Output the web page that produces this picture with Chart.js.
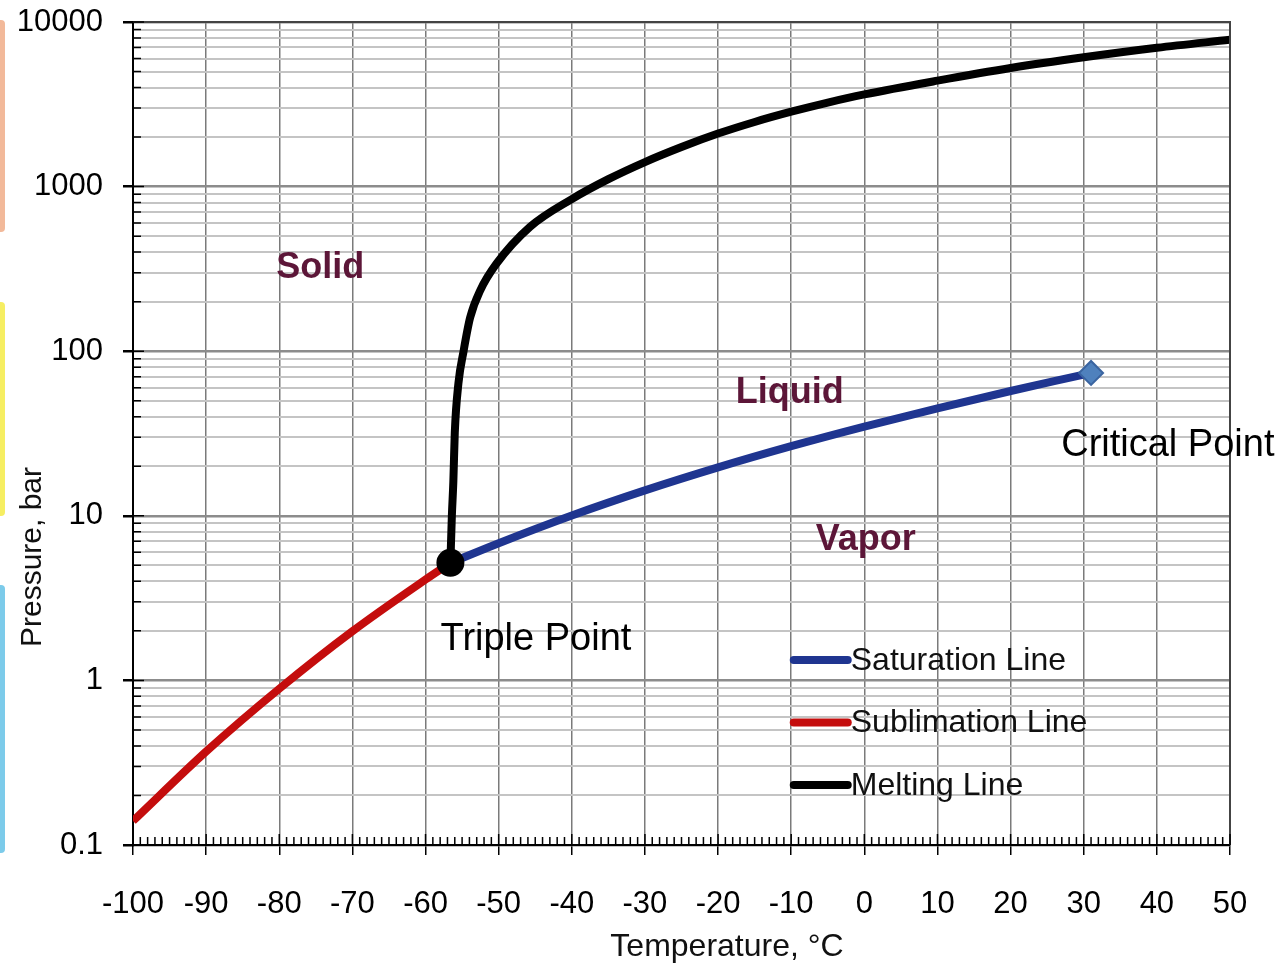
<!DOCTYPE html>
<html>
<head>
<meta charset="utf-8">
<script src="https://cdn.jsdelivr.net/npm/chart.js@4"></script>
<style>
  html, body { margin: 0; padding: 0; background: #fff; }
</style>
</head>
<body>
<canvas id="phase" width="1281" height="971"></canvas>
<script>
// CO2 phase diagram data
var satTemp = [-56.6, -50, -40, -30, -20, -10, 0, 10, 20, 30, 31]
var satPres = [5.18, 6.82, 10.05, 14.28, 19.7, 26.5, 34.85, 45.0, 57.3, 72.1, 73.8]

var subTemp = [-100, -90, -80, -70, -60, -56.6]
var subPres = [0.14, 0.37, 0.89, 1.99, 4.1, 5.18]

var meltTemp = [-56.6, -56.4, -56.2, -56.0, -55.5, -54.8, -53.9, -52.5, -50.3, -45.7, -40, -35, -30, -25, -20, -15, -10, -5, 0, 10, 20, 30, 40, 50]
var meltPres = [5.18, 10, 16, 32, 64, 100, 160, 235, 340, 570, 840, 1110, 1410, 1740, 2100, 2470, 2850, 3240, 3630, 4400, 5250, 6100, 6970, 7800]

var xTicks = [-100, -90, -80, -70, -60, -50, -40, -30, -20, -10, 0, 10, 20, 30, 40, 50]
var yDecades = [0.1, 1, 10, 100, 1000, 10000]
var yTickLabels = ['0.1', '1', '10', '100', '1000', '10000']

var FONT = 'Liberation Sans, Arial, sans-serif'

function pairs(xs, ys) {
  return xs.map(function (x, i) { return { x: x, y: ys[i] } })
}

function isDecade(v) {
  var l = Math.log10(v)
  return Math.abs(l - Math.round(l)) < 1e-9
}

function decadeLabel(v) {
  for (var i = 0; i < yDecades.length; i++) {
    if (Math.abs(v / yDecades[i] - 1) < 1e-9) return yTickLabels[i]
  }
  return ''
}

// text placed in data coordinates
var notes = [
  { text: 'Solid', x: -74.4, y: 320, color: '#5c1638', font: 'bold 36px ' + FONT },
  { text: 'Liquid', x: -10.2, y: 55.7, color: '#5c1638', font: 'bold 36px ' + FONT },
  { text: 'Vapor', x: 0.2, y: 7.13, color: '#5c1638', font: 'bold 36px ' + FONT },
  { text: 'Triple Point', x: -44.9, y: 1.76, color: '#000', font: '38px ' + FONT },
  { text: 'Critical Point', x: 41.5, y: 26.9, color: '#000', font: '38px ' + FONT }
]

var decor = {
  id: 'decor',
  beforeDraw: function (chart) {
    var c = chart.ctx
    c.save()
    c.fillStyle = '#fff'
    c.fillRect(0, 0, chart.width, chart.height)
    // coloured tabs on the left edge
    var tabs = [['#f2b99a', 20, 232], ['#f6ee62', 302, 516], ['#7ccbea', 585, 853]]
    tabs.forEach(function (t) {
      c.fillStyle = t[0]
      c.beginPath()
      c.roundRect(-6, t[1], 11, t[2] - t[1], 4)
      c.fill()
    })
    c.restore()
  },
  afterDatasetsDraw: function (chart) {
    var c = chart.ctx
    var a = chart.chartArea
    var xs = chart.scales.x
    var ys = chart.scales.y
    c.save()
    // frame top/right
    c.strokeStyle = '#444'
    c.lineWidth = 2
    c.beginPath()
    c.moveTo(a.left, a.top)
    c.lineTo(a.right, a.top)
    c.lineTo(a.right, a.bottom)
    c.stroke()
    // inward minor ticks on the x axis
    c.strokeStyle = '#000'
    c.lineWidth = 1.5
    c.beginPath()
    for (var t = xs.min; t <= xs.max; t++) {
      var px = xs.getPixelForValue(t)
      c.moveTo(px, a.bottom)
      c.lineTo(px, a.bottom - (t % 10 === 0 ? 11 : 8))
    }
    // inward ticks on the y axis
    ys.ticks.forEach(function (tk) {
      var py = ys.getPixelForValue(tk.value)
      c.moveTo(a.left, py)
      c.lineTo(a.left + (isDecade(tk.value) ? 11 : 8), py)
    })
    c.stroke()

    // region labels
    c.textAlign = 'center'
    c.textBaseline = 'middle'
    notes.forEach(function (n) {
      c.font = n.font
      c.fillStyle = n.color
      c.fillText(n.text, xs.getPixelForValue(n.x), ys.getPixelForValue(n.y))
    })

    // legend
    var lx = xs.getPixelForValue(-10.2)
    var ly = ys.getPixelForValue(1.33)
    c.font = '32px ' + FONT
    c.textAlign = 'left'
    c.fillStyle = '#111'
    chart.data.datasets.forEach(function (ds, i) {
      if (!ds.label) return
      var y = ly + i * 62.5
      c.strokeStyle = ds.borderColor
      c.lineWidth = 8
      c.lineCap = 'round'
      c.beginPath()
      c.moveTo(lx + 4, y)
      c.lineTo(lx + 58, y)
      c.stroke()
      c.fillText(ds.label, lx + 61, y + 1)
    })

    // axis titles
    c.fillStyle = '#111'
    c.textAlign = 'center'
    c.font = '32px ' + FONT
    c.fillText('Temperature, \u00B0C', 727, 947)
    c.save()
    c.translate(33, 557)
    c.rotate(-Math.PI / 2)
    c.font = '30px ' + FONT
    c.fillText('Pressure, bar', 0, 0)
    c.restore()
    c.restore()
  }
}

var chart = new Chart(document.getElementById('phase'), {
  type: 'line',
  data: {
    datasets: [
      {
        label: 'Saturation Line',
        data: pairs(satTemp, satPres),
        borderColor: '#1f3590',
        borderWidth: 8,
        cubicInterpolationMode: 'monotone',
        pointStyle: 'rectRot',
        pointRadius: function (ctx) { return ctx.dataIndex === satTemp.length - 1 ? 12 : 0 },
        pointBackgroundColor: '#4f81bd',
        pointBorderColor: '#3a64a0',
        pointBorderWidth: 2,
        order: 1
      },
      {
        label: 'Sublimation Line',
        data: pairs(subTemp, subPres),
        borderColor: '#c40d0d',
        borderWidth: 8,
        cubicInterpolationMode: 'monotone',
        pointRadius: 0,
        order: 2
      },
      {
        label: 'Melting Line',
        data: pairs(meltTemp, meltPres),
        borderColor: '#000',
        borderWidth: 8,
        cubicInterpolationMode: 'monotone',
        pointRadius: function (ctx) { return ctx.dataIndex === 0 ? 10 : 0 },
        pointBackgroundColor: '#000',
        pointBorderColor: '#000',
        order: 0
      }
    ]
  },
  options: {
    responsive: false,
    animation: false,
    layout: { padding: { left: 0, top: 22, right: 51, bottom: 0 } },
    plugins: {
      legend: { display: false },
      tooltip: { enabled: false }
    },
    scales: {
      x: {
        type: 'linear',
        min: -100,
        max: 50,
        afterFit: function (s) {
          s.height = 126
          s.paddingLeft = 0
          s.paddingRight = 0
        },
        afterBuildTicks: function (s) {
          s.ticks = xTicks.map(function (v) { return { value: v } })
        },
        ticks: {
          autoSkip: false,
          maxRotation: 0,
          padding: 31,
          color: '#000',
          font: { family: FONT, size: 31 }
        },
        grid: {
          color: '#7a7a7a',
          lineWidth: 1.5,
          tickColor: '#000',
          tickLength: 10
        },
        border: { color: '#000', width: 2 }
      },
      y: {
        type: 'logarithmic',
        min: 0.1,
        max: 10000,
        afterFit: function (s) {
          s.width = 133
          s.paddingTop = 0
          s.paddingBottom = 0
        },
        afterBuildTicks: function (s) {
          var list = []
          yDecades.forEach(function (d) {
            for (var m = 1; m <= 9; m++) {
              var v = d * m
              if (v <= 10000 * 1.0001) list.push({ value: v })
            }
          })
          s.ticks = list
        },
        ticks: {
          autoSkip: false,
          padding: 20,
          color: '#000',
          font: { family: FONT, size: 31 },
          callback: function (v) { return isDecade(v) ? decadeLabel(v) : '' }
        },
        grid: {
          color: function (ctx) { return ctx.tick && isDecade(ctx.tick.value) ? '#8c8c8c' : '#c4c4c4' },
          lineWidth: function (ctx) { return ctx.tick && isDecade(ctx.tick.value) ? 2.5 : 2 },
          tickColor: function (ctx) { return ctx.tick && isDecade(ctx.tick.value) ? '#000' : 'rgba(0,0,0,0)' },
          tickLength: 10
        },
        border: { color: '#000', width: 2 }
      }
    }
  },
  plugins: [decor]
})
</script>
</body>
</html>
